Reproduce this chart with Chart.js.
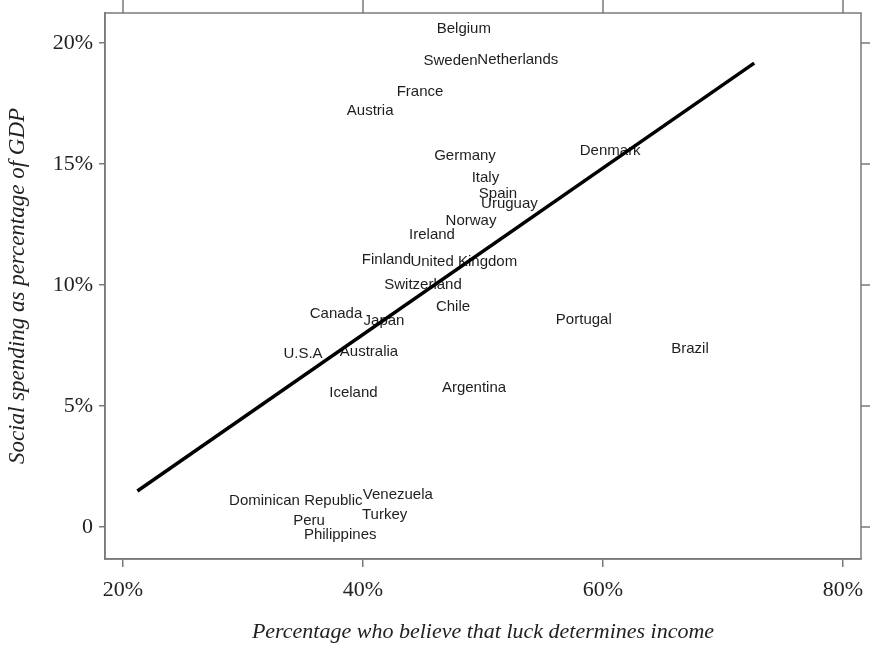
<!doctype html>
<html>
<head>
	<title>Luck and social spending</title>
	<script src="https://cdn.jsdelivr.net/npm/chart.js@4"></script>
	<style>
		body { margin: 0; background: #fff; }
		#wrap { width: 870px; height: 648px; }
	</style>
</head>
<body>
	<div id="wrap"><canvas id="canvas"></canvas></div>
	<script>
		const countries = ['Belgium', 'Sweden', 'Netherlands', 'France', 'Austria', 'Germany', 'Italy', 'Spain',
			'Uruguay', 'Norway', 'Ireland', 'Finland', 'United Kingdom', 'Switzerland', 'Chile', 'Canada', 'Japan',
			'U.S.A', 'Australia', 'Iceland', 'Argentina', 'Portugal', 'Brazil', 'Denmark', 'Dominican Republic',
			'Venezuela', 'Turkey', 'Peru', 'Philippines'];
		const luck = [48.4, 47.3, 52.9, 44.75, 40.6, 48.5, 50.2, 51.25, 52.2, 49.0, 45.75, 41.95, 48.4, 45.0, 47.5,
			37.75, 41.75, 35.0, 40.5, 39.2, 49.25, 58.4, 67.25, 60.6, 34.4, 42.9, 41.8, 35.5, 38.1];
		const spending = [20.66, 19.34, 19.38, 18.06, 17.27, 15.41, 14.5, 13.84, 13.43, 12.73, 12.15, 11.12, 11.03,
			10.08, 9.17, 8.88, 8.6, 7.23, 7.31, 5.62, 5.83, 8.64, 7.44, 15.62, 1.16, 1.4, 0.58, 0.33, -0.25];
		const fitX = [21.2, 72.6];
		const fitY = [1.49, 19.17];
		const xTicks = [20, 40, 60, 80];
		const yTicks = [0, 5, 10, 15, 20];

		const frameColor = '#7a7a7a';

		const countryLabels = {
			id: 'countryLabels',
			beforeDatasetsDraw(chart) {
				const ctx = chart.ctx;
				const meta = chart.getDatasetMeta(0);
				ctx.save();
				ctx.font = '15px "Liberation Sans", Arial, sans-serif';
				ctx.fillStyle = '#1e1e1e';
				ctx.textAlign = 'center';
				ctx.textBaseline = 'middle';
				meta.data.forEach((pt, i) => {
					// +2: the ink of the text sits a little below the em-box middle
					ctx.fillText(countries[i], pt.x, pt.y + 2);
				});
				ctx.restore();
			}
		};

		// box round the plot plus ticks on the top and right sides
		const frame = {
			id: 'frame',
			afterDraw(chart) {
				const {ctx, chartArea: a, scales} = chart;
				ctx.save();
				ctx.strokeStyle = frameColor;
				ctx.lineWidth = 1.5;
				ctx.strokeRect(a.left, a.top, a.right - a.left, a.bottom - a.top);
				ctx.beginPath();
				xTicks.forEach(v => {
					const px = scales.x.getPixelForValue(v);
					ctx.moveTo(px, a.top);
					ctx.lineTo(px, a.top - 13);
				});
				yTicks.forEach(v => {
					const py = scales.y.getPixelForValue(v);
					ctx.moveTo(a.right, py);
					ctx.lineTo(a.right + 9, py);
				});
				ctx.stroke();
				ctx.restore();
			}
		};

		const noPad = s => {
			s.paddingLeft = 0;
			s.paddingRight = 0;
			s.paddingTop = 0;
			s.paddingBottom = 0;
		};

		const serif = '"Liberation Serif", "Times New Roman", serif';

		const config = {
			type: 'scatter',
			data: {
				datasets: [{
					data: countries.map((c, i) => ({x: luck[i], y: spending[i]})),
					pointRadius: 0,
					pointHoverRadius: 0
				}, {
					type: 'line',
					data: fitX.map((x, i) => ({x: x, y: fitY[i]})),
					borderColor: '#000',
					borderWidth: 3.5,
					pointRadius: 0,
					fill: false
				}]
			},
			options: {
				responsive: true,
				maintainAspectRatio: false,
				animation: false,
				layout: {padding: {top: 13, right: 9, left: 0, bottom: 0}},
				plugins: {
					legend: {display: false},
					tooltip: {enabled: false}
				},
				scales: {
					x: {
						type: 'linear',
						min: 18.5,
						max: 81.5,
						afterBuildTicks: s => { s.ticks = xTicks.map(v => ({value: v})); },
						afterFit: s => { s.height = 89; noPad(s); },
						grid: {drawOnChartArea: false, tickLength: 8, color: frameColor, lineWidth: 1.5},
						border: {display: true, color: frameColor, width: 1.5},
						ticks: {
							padding: 10,
							color: '#222',
							font: {family: serif, size: 22},
							maxRotation: 0,
							callback: v => v + '%'
						},
						title: {
							display: true,
							text: 'Percentage who believe that luck determines income',
							color: '#222',
							font: {family: serif, size: 22, style: 'italic'},
							padding: {top: 0, bottom: 3}
						}
					},
					y: {
						min: -1.32,
						max: 21.24,
						afterBuildTicks: s => { s.ticks = yTicks.map(v => ({value: v})); },
						afterFit: s => { s.width = 105; noPad(s); },
						grid: {drawOnChartArea: false, tickLength: 6, color: frameColor, lineWidth: 1.5},
						border: {display: true, color: frameColor, width: 1.5},
						ticks: {
							padding: 6,
							color: '#222',
							font: {family: serif, size: 22},
							callback: v => v === 0 ? '0' : v + '%'
						},
						title: {
							display: true,
							text: 'Social spending as percentage of GDP',
							color: '#222',
							font: {family: serif, size: 23, style: 'italic'},
							padding: {top: 4, bottom: 0}
						}
					}
				}
			},
			plugins: [countryLabels, frame]
		};

		window.onload = function() {
			const ctx = document.getElementById('canvas').getContext('2d');
			window.myChart = new Chart(ctx, config);
		};
	</script>
</body>
</html>
